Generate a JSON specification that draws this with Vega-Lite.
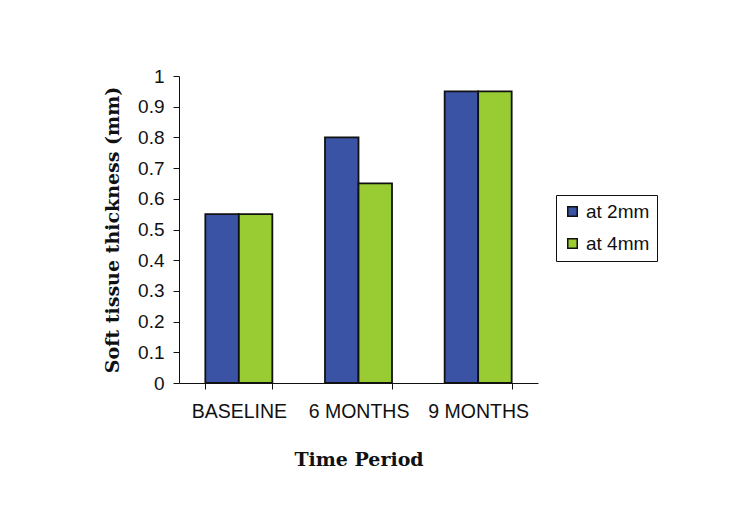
{
  "$schema": "https://vega.github.io/schema/vega-lite/v6.json",
  "width": 359,
  "height": 307,
  "autosize": {"type": "none"},
  "padding": {"left": 179, "top": 76, "right": 191, "bottom": 130},
  "background": "white",
  "config": {
    "view": {"stroke": null},
    "axis": {"labelFont": "Liberation Sans", "labelFontSize": 19.5, "labelColor": "#111", "titleFont": "DejaVu Serif", "titleFontSize": 19, "titleFontWeight": "bold", "titleColor": "#111", "domainColor": "#111", "tickColor": "#111", "grid": false}
  },
  "data": {"values": [
    {"period": "BASELINE", "series": "at 2mm", "value": 0.55},
    {"period": "BASELINE", "series": "at 4mm", "value": 0.55},
    {"period": "6 MONTHS", "series": "at 2mm", "value": 0.8},
    {"period": "6 MONTHS", "series": "at 4mm", "value": 0.65},
    {"period": "9 MONTHS", "series": "at 2mm", "value": 0.95},
    {"period": "9 MONTHS", "series": "at 4mm", "value": 0.95}
  ]},
  "mark": {"type": "bar", "stroke": "#111", "strokeWidth": 1.8},
  "encoding": {
    "x": {"field": "period", "type": "nominal", "sort": ["BASELINE", "6 MONTHS", "9 MONTHS"],
      "scale": {"paddingInner": 0.44, "paddingOuter": 0.22},
      "axis": {"title": "Time Period", "labelAngle": 0, "tickBand": "extent", "tickSize": 6, "labelPadding": 13, "titlePadding": 30}},
    "xOffset": {"field": "series", "type": "nominal", "scale": {"paddingInner": 0, "paddingOuter": 0}},
    "y": {"field": "value", "type": "quantitative", "scale": {"domain": [0, 1]},
      "axis": {"title": "Soft tissue thickness (mm)", "values": [0, 0.1, 0.2, 0.3, 0.4, 0.5, 0.6, 0.7, 0.8, 0.9, 1], "format": "~g", "tickSize": 6, "labelFontSize": 19, "labelPadding": 9, "titlePadding": 15}},
    "color": {"field": "series", "type": "nominal",
      "scale": {"domain": ["at 2mm", "at 4mm"], "range": ["#3A53A4", "#99CC33"]},
      "legend": {"title": null, "orient": "none", "legendX": 377, "legendY": 119, "symbolType": "square", "symbolSize": 90, "symbolStrokeColor": "#111", "symbolStrokeWidth": 1.5, "labelFont": "Liberation Sans", "labelFontSize": 19, "labelColor": "#111", "labelOffset": 4, "strokeColor": "#111", "padding": 7, "rowPadding": 12, "symbolOffset": 0}}
  }
}
